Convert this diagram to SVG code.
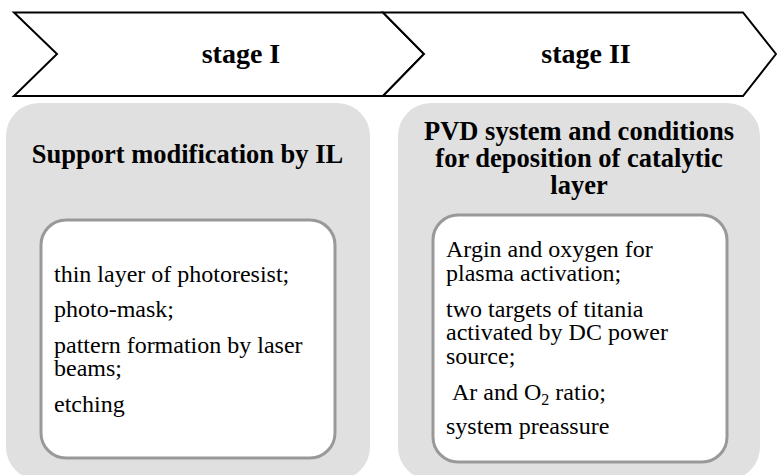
<svg xmlns="http://www.w3.org/2000/svg" width="777" height="475" viewBox="0 0 777 475">
<style>
.chev{fill:#fff;stroke:#000;stroke-width:2;stroke-linejoin:miter}
.outer{fill:#e0e0e0}
.inner{fill:#fff;stroke:#999;stroke-width:3}
text{font-family:'Liberation Serif','Times New Roman',serif;fill:#000}
.stage{font-weight:bold;font-size:28px;text-anchor:middle}
.title{font-weight:bold;font-size:26.5px;text-anchor:middle}
.body{font-size:24px}
</style>
<g id="stage1">
<polygon class="chev" points="14,12.5 383,12.5 424,54 383,96 14,96 57,54"/>
<text class="stage" x="241" y="63">stage I</text>
</g>
<g id="stage2">
<polygon class="chev" points="383,12.5 743,12.5 776,54 743,96 383,96 424,54"/>
<text class="stage" x="586" y="63">stage II</text>
</g>
<g id="panel1">
<rect class="outer" x="6" y="103" width="364" height="377" rx="33"/>
<text class="title" x="187.5" y="163">Support modification by IL</text>
<rect class="inner" x="41" y="220" width="294" height="238" rx="25"/>
<text class="body" x="54" y="281.5">thin layer of photoresist;</text>
<text class="body" x="54" y="317">photo-mask;</text>
<text class="body" x="54" y="352.5">pattern formation by laser<tspan x="54" dy="23.5">beams;</tspan></text>
<text class="body" x="54" y="411.5">etching</text>
</g>
<g id="panel2">
<rect class="outer" x="398" y="103" width="362" height="377" rx="33"/>
<text class="title" x="579" y="140">PVD system and conditions<tspan x="579" dy="27">for deposition of catalytic</tspan><tspan x="579" dy="27">layer</tspan></text>
<rect class="inner" x="433" y="215" width="294" height="247" rx="25"/>
<text class="body" x="446" y="257">Argin and oxygen for<tspan x="446" dy="23.5">plasma activation;</tspan></text>
<text class="body" x="446" y="316.5">two targets of titania<tspan x="446" dy="23.5">activated by DC power</tspan><tspan x="446" dy="23.5">source;</tspan></text>
<text class="body" x="452" y="400">Ar and O<tspan font-size="16" dy="5">2</tspan><tspan dy="-5"> ratio;</tspan></text>
<text class="body" x="446" y="434">system preassure</text>
</g>
<g id="connectors"></g>
</svg>
